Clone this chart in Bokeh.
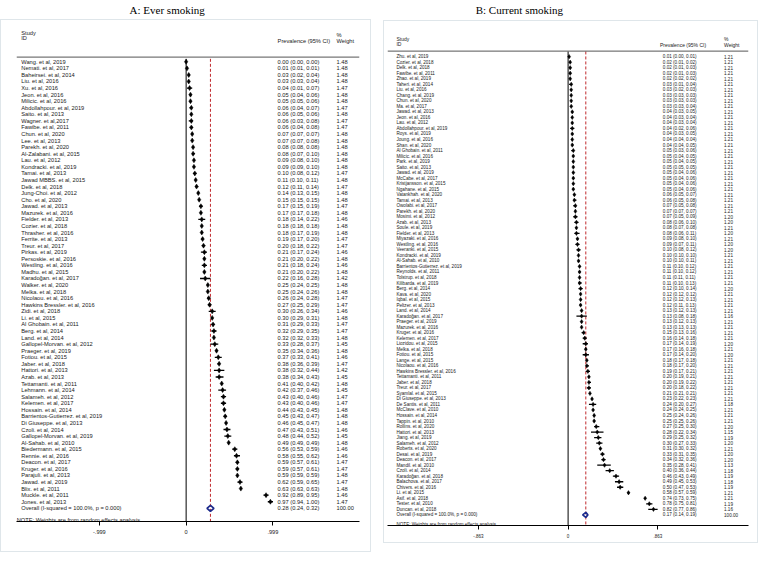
from bokeh.plotting import figure
from bokeh.models import ColumnDataSource, Range1d, FixedTicker, Span, Spacer
from bokeh.layouts import row, column
from bokeh.embed import file_html
from bokeh.resources import INLINE
from bokeh.core.properties import value

# ---------------- Panel A: Ever smoking ----------------
studies_A = [
    "Wang. et al, 2019", "Nemati. et al, 2017", "Baheirsei. et al, 2014", "Liu. et al, 2016",
    "Xu. et al, 2016", "Jeon. et al, 2016", "Milicic. et al, 2016", "Abdollahpour. et al, 2019",
    "Saito. et al, 2013", "Wagner. et al,2017", "Fawibe. et al, 2011", "Chun. et al, 2020",
    "Lee. et al, 2013", "Parekh. et al, 2020", "Al-Zalabani. et al, 2015", "Lau. et al, 2012",
    "Kondracki. et al, 2019", "Tamai. et al, 2013", "Jawad MBBS. et al, 2015", "Delk. et al, 2018",
    "Jung-Choi. et al, 2012", "Cho. et al, 2020", "Jawad. et al, 2013", "Mazurek. et al, 2016",
    "Fielder. et al, 2013", "Cozier. et al, 2018", "Thrasher. et al, 2016", "Ferrite. et al, 2013",
    "Treur. et al, 2017", "Pirkas. et al, 2019", "Persoskie. et al, 2016", "Westling. et al, 2016",
    "Madhu. et al, 2015", "Karadoğan. et al, 2017", "Walker. et al, 2020", "Melka. et al, 2018",
    "Nicolaou. et al, 2016", "Hawkins Bressler. et al, 2016", "Zidi. et al, 2018", "Li. et al, 2015",
    "Al Ghobain. et al, 2011", "Berg. et al, 2014", "Land. et al, 2014", "Gallopel-Morvan. et al, 2012",
    "Praeger. et al, 2019", "Fotiou. et al, 2015", "Jaber. et al, 2018", "Hattori. et al, 2013",
    "Azab. et al, 2013", "Tettamanti. et al, 2011", "Lehmann. et al, 2014", "Salameh. et al, 2012",
    "Kelemen. et al, 2017", "Hossain. et al, 2014", "Barrientos-Gutierrez. et al, 2019", "Di Giuseppe. et al, 2013",
    "Czoli. et al, 2014", "Gallopel-Morvan. et al, 2019", "Al-Sahab. et al, 2010", "Biedermann. et al, 2015",
    "Rennie. et al, 2016", "Deacon. et al, 2017", "Kruger. et al, 2016", "Parajuli. et al, 2013",
    "Jawad. et al, 2019", "Blix. et al, 2011", "Muckle. et al, 2011", "Jones. et al, 2013",
]
est_A = [0.00, 0.01, 0.03, 0.03, 0.04, 0.05, 0.05, 0.06, 0.06, 0.06, 0.06, 0.07, 0.07, 0.08, 0.08, 0.09,
         0.09, 0.10, 0.11, 0.12, 0.14, 0.15, 0.17, 0.17, 0.18, 0.18, 0.18, 0.19, 0.20, 0.21, 0.21, 0.21,
         0.21, 0.22, 0.25, 0.25, 0.26, 0.27, 0.30, 0.30, 0.31, 0.32, 0.32, 0.33, 0.35, 0.37, 0.38, 0.38,
         0.38, 0.41, 0.42, 0.43, 0.43, 0.44, 0.45, 0.46, 0.47, 0.48, 0.49, 0.56, 0.58, 0.59, 0.59, 0.59,
         0.62, 0.63, 0.92, 0.97]
lo_A = [0.00, 0.01, 0.02, 0.03, 0.01, 0.04, 0.05, 0.04, 0.05, 0.03, 0.04, 0.07, 0.07, 0.08, 0.07, 0.08,
        0.09, 0.08, 0.10, 0.11, 0.13, 0.15, 0.15, 0.17, 0.14, 0.18, 0.17, 0.17, 0.18, 0.17, 0.20, 0.18,
        0.20, 0.16, 0.24, 0.24, 0.24, 0.25, 0.26, 0.29, 0.29, 0.29, 0.32, 0.28, 0.34, 0.33, 0.36, 0.32,
        0.34, 0.40, 0.37, 0.40, 0.40, 0.43, 0.43, 0.45, 0.43, 0.44, 0.49, 0.53, 0.55, 0.57, 0.57, 0.59,
        0.59, 0.63, 0.89, 0.94]
hi_A = [0.00, 0.01, 0.04, 0.04, 0.07, 0.06, 0.06, 0.07, 0.06, 0.08, 0.08, 0.07, 0.08, 0.08, 0.10, 0.10,
        0.10, 0.12, 0.11, 0.14, 0.15, 0.15, 0.19, 0.18, 0.22, 0.18, 0.19, 0.20, 0.22, 0.24, 0.22, 0.24,
        0.22, 0.28, 0.25, 0.26, 0.28, 0.29, 0.34, 0.31, 0.33, 0.35, 0.33, 0.37, 0.36, 0.41, 0.39, 0.44,
        0.43, 0.42, 0.46, 0.46, 0.46, 0.45, 0.47, 0.47, 0.51, 0.52, 0.49, 0.59, 0.62, 0.61, 0.61, 0.59,
        0.65, 0.63, 0.95, 1.00]
wt_A = [1.48, 1.48, 1.48, 1.48, 1.47, 1.48, 1.48, 1.47, 1.48, 1.47, 1.47, 1.48, 1.48, 1.48, 1.48, 1.48,
        1.48, 1.47, 1.48, 1.47, 1.48, 1.48, 1.47, 1.48, 1.46, 1.48, 1.48, 1.47, 1.47, 1.46, 1.48, 1.46,
        1.48, 1.42, 1.48, 1.48, 1.47, 1.47, 1.46, 1.48, 1.47, 1.47, 1.48, 1.45, 1.48, 1.46, 1.47, 1.42,
        1.45, 1.48, 1.45, 1.47, 1.47, 1.48, 1.48, 1.48, 1.46, 1.45, 1.48, 1.46, 1.46, 1.47, 1.47, 1.48,
        1.47, 1.48, 1.46, 1.47]
overall_A = [0.28, 0.24, 0.32]
ticks_A = [-0.999, 0.0, 0.999]
tick_labels_A = ["-.999", "0", ".999"]

# ---------------- Panel B: Current smoking ----------------
studies_B = [
    "Zhu. et al, 2019", "Cozier. et al, 2018", "Delk. et al, 2018", "Fawibe. et al, 2011",
    "Zhao. et al, 2019", "Taheri. et al, 2014", "Liu. et al, 2016", "Chang. et al, 2019",
    "Chun. et al, 2020", "Ma. et al, 2017", "Jawad. et al, 2013", "Jeon. et al, 2016",
    "Lau. et al, 2012", "Abdollahpour. et al, 2019", "Roys. et al, 2019", "Joung. et al, 2016",
    "Shan. et al, 2020", "Al Ghobain. et al, 2011", "Milicic. et al, 2016", "Park. et al, 2019",
    "Saito. et al, 2013", "Jawad. et al, 2019", "McCabe. et al, 2017", "Kristjansson. et al, 2015",
    "Ngahane. et al, 2015", "Vatankhah. et al, 2020", "Tamai. et al, 2013", "Owolabi. et al, 2017",
    "Parekh. et al, 2020", "Mosimi. et al, 2012", "Azab. et al, 2013", "Soule. et al, 2019",
    "Fielder. et al, 2013", "Miyazaki. et al, 2016", "Westling. et al, 2016", "Veeranki. et al, 2015",
    "Kondracki. et al, 2019", "Al-Sahab. et al, 2010", "Barrientos-Gutierrez. et al, 2019", "Reynolds. et al, 2011",
    "Tolstrup. et al, 2018", "Kilibarda. et al, 2019", "Berg. et al, 2014", "Kava. et al, 2020",
    "Iqbal. et al, 2015", "Peltzer. et al, 2013", "Land. et al, 2014", "Karadoğan. et al, 2017",
    "Praeger. et al, 2019", "Mazurek. et al, 2016", "Kruger. et al, 2016", "Kelemen. et al, 2017",
    "Liozidou. et al, 2015", "Melka. et al, 2018", "Fotiou. et al, 2015", "Lange. et al, 2015",
    "Nicolaou. et al, 2016", "Hawkins Bressler. et al, 2016", "Tettamanti. et al, 2011", "Jaber. et al, 2018",
    "Treur. et al, 2017", "Syamlal. et al, 2015", "Di Giuseppe. et al, 2013", "De Santis. et al, 2011",
    "McClave. et al, 2010", "Hossain. et al, 2014", "Tappin. et al, 2010", "Rollins. et al, 2020",
    "Hattori. et al, 2013", "Jiang. et al, 2019", "Salameh. et al, 2012", " Roberts. et al, 2020",
    "Desai. et al, 2019", "Deacon. et al, 2017", "Mandil. et al, 2010", "Czoli. et al, 2014",
    "Karadoğan. et al, 2018", "Balachova. et al, 2017", "Chivers. et al, 2016", "Li. et al, 2015",
    "Asif. et al, 2018", "Tester. et al, 2010", "Duncan. et al, 2018",
]
est_B = [0.01, 0.02, 0.02, 0.02, 0.02, 0.03, 0.03, 0.03, 0.03, 0.03, 0.04, 0.04, 0.04, 0.04, 0.04, 0.04,
         0.04, 0.05, 0.05, 0.05, 0.05, 0.05, 0.05, 0.05, 0.05, 0.06, 0.06, 0.07, 0.07, 0.07, 0.08, 0.08,
         0.08, 0.09, 0.09, 0.10, 0.10, 0.10, 0.11, 0.11, 0.11, 0.11, 0.12, 0.12, 0.12, 0.12, 0.13, 0.13,
         0.13, 0.13, 0.15, 0.16, 0.17, 0.17, 0.17, 0.18, 0.18, 0.19, 0.20, 0.20, 0.20, 0.21, 0.23, 0.24,
         0.24, 0.25, 0.25, 0.27, 0.28, 0.29, 0.30, 0.31, 0.33, 0.34, 0.35, 0.40, 0.46, 0.49, 0.50, 0.58,
         0.74, 0.78, 0.82]
lo_B = [0.00, 0.01, 0.01, 0.01, 0.02, 0.01, 0.02, 0.03, 0.03, 0.03, 0.03, 0.03, 0.03, 0.02, 0.03, 0.04,
        0.04, 0.03, 0.04, 0.04, 0.05, 0.04, 0.04, 0.04, 0.04, 0.05, 0.05, 0.05, 0.07, 0.05, 0.06, 0.07,
        0.06, 0.08, 0.07, 0.08, 0.10, 0.10, 0.10, 0.10, 0.11, 0.10, 0.10, 0.12, 0.12, 0.11, 0.12, 0.08,
        0.12, 0.13, 0.13, 0.14, 0.14, 0.16, 0.14, 0.17, 0.17, 0.17, 0.19, 0.19, 0.18, 0.21, 0.22, 0.20,
        0.24, 0.24, 0.25, 0.25, 0.22, 0.25, 0.27, 0.30, 0.31, 0.32, 0.28, 0.36, 0.43, 0.45, 0.47, 0.57,
        0.73, 0.75, 0.77]
hi_B = [0.01, 0.02, 0.03, 0.03, 0.02, 0.04, 0.03, 0.03, 0.03, 0.04, 0.05, 0.04, 0.04, 0.06, 0.05, 0.04,
        0.05, 0.06, 0.05, 0.05, 0.05, 0.06, 0.06, 0.06, 0.06, 0.07, 0.08, 0.08, 0.07, 0.09, 0.10, 0.08,
        0.11, 0.10, 0.11, 0.12, 0.10, 0.11, 0.12, 0.12, 0.11, 0.13, 0.14, 0.12, 0.13, 0.13, 0.13, 0.18,
        0.13, 0.13, 0.16, 0.18, 0.19, 0.18, 0.20, 0.18, 0.20, 0.21, 0.21, 0.22, 0.22, 0.21, 0.23, 0.27,
        0.25, 0.26, 0.26, 0.30, 0.34, 0.32, 0.33, 0.32, 0.35, 0.36, 0.41, 0.44, 0.49, 0.53, 0.53, 0.59,
        0.75, 0.81, 0.86]
wt_B = [1.21, 1.21, 1.21, 1.21, 1.21, 1.21, 1.21, 1.21, 1.21, 1.21, 1.21, 1.21, 1.21, 1.21, 1.21, 1.21,
        1.21, 1.21, 1.21, 1.21, 1.21, 1.21, 1.21, 1.21, 1.21, 1.21, 1.21, 1.21, 1.21, 1.20, 1.20, 1.21,
        1.20, 1.21, 1.20, 1.20, 1.21, 1.21, 1.21, 1.21, 1.21, 1.21, 1.20, 1.21, 1.21, 1.21, 1.21, 1.16,
        1.21, 1.21, 1.21, 1.21, 1.20, 1.21, 1.20, 1.21, 1.21, 1.21, 1.21, 1.21, 1.21, 1.21, 1.21, 1.18,
        1.21, 1.21, 1.21, 1.20, 1.15, 1.19, 1.20, 1.21, 1.20, 1.20, 1.13, 1.18, 1.19, 1.18, 1.19, 1.21,
        1.21, 1.19, 1.16]
overall_B = [0.17, 0.14, 0.19]
ticks_B = [-0.863, 0.0, 0.863]
tick_labels_B = ["-.863", "0", ".863"]

overall_label = "Overall  (I-squared = 100.0%, p = 0.000)"
note_label = "NOTE: Weights are from random effects analysis"

FONT = "Liberation Sans"
SERIF = "Liberation Serif"
RED = "#c0282d"
NAVY = "#1c2a8c"
TXT = "#1a1a1a"
BOX = "1px solid #dfe6ea"


def title_fig(text, w, h, cx, base):
    t = figure(width=w, height=h, x_range=Range1d(0, w), y_range=Range1d(h, 0),
               toolbar_location=None, output_backend="svg",
               x_axis_location=None, y_axis_location=None,
               min_border_left=0, min_border_right=0, min_border_top=0, min_border_bottom=0)
    t.grid.visible = False
    t.outline_line_color = None
    t.text(x=[cx], y=[base], text=[text], text_font=value(SERIF), text_font_size=value("11px"),
           text_align="center", text_baseline="alphabetic", text_color="black")
    return t


def panel(studies, est, lo, hi, wt, ov, ticks, tlabels, g):
    n = len(studies)
    p = figure(width=g["w"], height=g["h"], x_range=Range1d(*g["xr"]),
               y_range=Range1d(g["yb"], g["yt"]), toolbar_location=None, output_backend="svg",
               y_axis_location=None,
               min_border_left=g["bl"], min_border_right=g["br"],
               min_border_top=g["bt"], min_border_bottom=g["bb"])
    p.grid.visible = False
    p.outline_line_color = None
    p.styles = {"border": BOX}

    fs = value(g["fs"])
    hfs = value(g["hfs"])
    tf = value(FONT)

    # header
    p.add_layout(Span(location=g["hl"], dimension="width", line_color="#555555", line_width=1))
    p.text(x=[g["xn"], g["xn"]], y=[g["y_study"], g["y_id"]], text=["Study", "ID"],
           text_font=tf, text_font_size=hfs, text_baseline="middle", text_color=TXT)
    p.text(x=[g["xp"]], y=[g["y_prev"]], text=["Prevalence (95% CI)"],
           text_font=tf, text_font_size=hfs, text_baseline="middle", text_color=TXT)
    p.text(x=[g["xw"], g["xw"]], y=[g["y_pct"], g["y_wt"]], text=["%", "Weight"],
           text_font=tf, text_font_size=hfs, text_baseline="middle", text_color=TXT)

    # reference lines
    p.segment(x0=[0], y0=[g["ltop"]], x1=[0], y1=[g["yb"]], line_color="black", line_width=1)
    p.segment(x0=[ov[0]], y0=[g["ltop"]], x1=[ov[0]], y1=[g["yb"]], line_color=RED,
              line_width=1, line_dash="3 2")

    rows = list(range(n))
    src = ColumnDataSource(dict(
        row=rows, est=est, lo=lo, hi=hi, name=studies,
        etxt=[f"{e:.2f} ({a:.2f}, {b:.2f})" for e, a, b in zip(est, lo, hi)],
        wtxt=[f"{w:.2f}" for w in wt],
    ))
    p.segment(x0="lo", y0="row", x1="hi", y1="row", source=src, line_color="black",
              line_width=1.3)
    p.scatter(x="est", y="row", source=src, marker="diamond", size=g["ms"],
              fill_color="black", line_color="black", line_width=0.5)
    p.text(x=g["xn"], y="row", text="name", source=src, text_font=tf, text_font_size=fs,
           text_baseline="middle", text_color=TXT)
    p.text(x=g["xe"], y="row", text="etxt", source=src, text_font=tf, text_font_size=fs,
           text_baseline="middle", text_color=TXT)
    p.text(x=g["xw"], y="row", text="wtxt", source=src, text_font=tf, text_font_size=fs,
           text_baseline="middle", text_color=TXT)

    # overall
    yo = n
    dh = 0.45
    p.patch(x=[ov[1], ov[0], ov[2], ov[0]], y=[yo, yo - dh, yo, yo + dh],
            fill_color=None, line_color=NAVY, line_width=1.7)
    p.text(x=[g["xn"]], y=[yo], text=[overall_label], text_font=tf, text_font_size=fs,
           text_baseline="middle", text_color=TXT)
    p.text(x=[g["xe"]], y=[yo], text=[f"{ov[0]:.2f} ({ov[1]:.2f}, {ov[2]:.2f})"], text_font=tf,
           text_font_size=fs, text_baseline="middle", text_color=TXT)
    p.text(x=[g["xw"]], y=[yo], text=["100.00"], text_font=tf, text_font_size=fs,
           text_baseline="middle", text_color=TXT)
    p.text(x=[g["xnote"]], y=[g["ynote"]], text=[note_label], text_font=tf, text_font_size=fs,
           text_baseline="alphabetic", text_color=TXT)

    ax = p.xaxis[0]
    ax.ticker = FixedTicker(ticks=ticks)
    ax.major_label_overrides = {t: l for t, l in zip(ticks, tlabels)}
    ax.minor_tick_line_color = None
    ax.major_tick_in = 0
    ax.major_tick_out = 4
    ax.major_tick_line_color = "black"
    ax.axis_line_color = "black"
    ax.axis_line_width = 1.2
    ax.major_label_text_font = FONT
    ax.major_label_text_font_size = g["tfs"]
    ax.major_label_text_color = TXT
    ax.major_label_standoff = 4
    return p


geo_A = dict(w=371, h=533, bl=15, br=13, bt=4, bb=32,
             xr=(-1.953, 1.996), yb=70.01, yt=-5.68, hl=-0.714, ltop=-0.45,
             xn=-1.898, xe=1.053, xp=1.053, xw=1.731, xnote=-1.951, ynote=69.72,
             y_study=-4.46, y_id=-3.57, y_prev=-3.21, y_pct=-4.1, y_wt=-3.21,
             fs="5.7px", hfs="5.7px", tfs="5.6px", ms=5)
geo_B = dict(w=375, h=523, bl=3, br=11, bt=4, bb=19,
             xr=(-1.735, 1.733), yb=84.93, yt=-5.65, hl=-1.01, ltop=-0.95,
             xn=-1.649, xe=0.910, xp=0.882, xw=1.498, xnote=-1.649, ynote=84.68,
             y_study=-3.19, y_id=-2.30, y_prev=-2.05, y_pct=-3.19, y_wt=-2.12,
             fs="4.6px", hfs="5px", tfs="4.5px", ms=4.3)

pA = panel(studies_A, est_A, lo_A, hi_A, wt_A, overall_A, ticks_A, tick_labels_A, geo_A)
pB = panel(studies_B, est_B, lo_B, hi_B, wt_B, overall_B, ticks_B, tick_labels_B, geo_B)
tA = title_fig("A: Ever smoking", 373, 19, 164, 9)
tB = title_fig("B: Current smoking", 377, 20, 138, 9)

left_col = column(tA, pA, align="start")
right_col = column(tB, pB, Spacer(width=10, height=9), align="start")
layout = row(left_col, Spacer(width=10, height=10), right_col)

with open("out.html", "w") as f:
    f.write(file_html(layout, INLINE, title="Forest plots"))
